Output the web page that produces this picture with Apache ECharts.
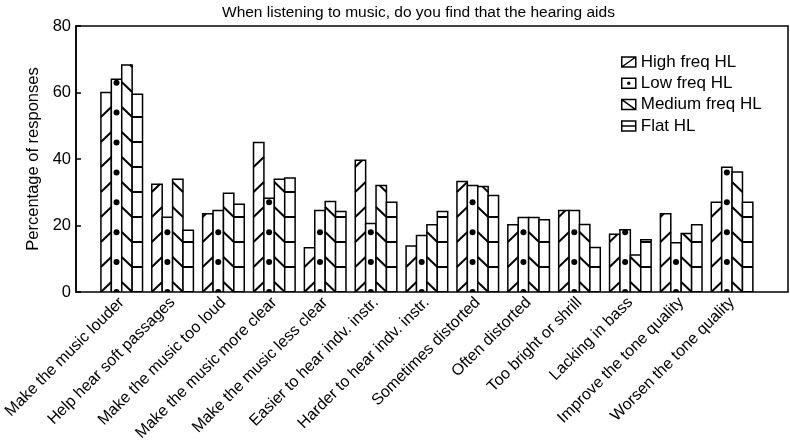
<!DOCTYPE html>
<html>
<head>
<meta charset="utf-8">
<script src="https://cdn.jsdelivr.net/npm/echarts@6/dist/echarts.min.js"></script>
<style>
html,body{margin:0;padding:0;background:#fff;}
#chart{width:790px;height:447px;}
</style>
</head>
<body>
<div id="chart"></div>
<script>
const categories = [
  'Make the music louder', 'Help hear soft passages', 'Make the music too loud',
  'Make the music more clear', 'Make the music less clear', 'Easier to hear indv. instr.',
  'Harder to hear indv. instr.', 'Sometimes distorted', 'Often distorted',
  'Too bright or shrill', 'Lacking in bass', 'Improve the tone quality', 'Worsen the tone quality'
];
const seriesNames = ['High freq HL', 'Low freq HL', 'Medium freq HL', 'Flat HL'];
const highFreq   = [60, 32.4, 23.5, 45, 13.3, 39.6, 13.8, 33.2, 20.2, 24.5, 17.4, 23.5, 27];
const lowFreq    = [64, 22.5, 24.5, 28.2, 24.5, 20.6, 17, 32, 22.4, 24.5, 18.7, 14.8, 37.5];
const mediumFreq = [68.3, 33.9, 29.7, 33.9, 27.2, 32, 20.2, 31.7, 22.4, 20.3, 11.1, 17.6, 36.1];
const flatHL     = [59.5, 18.6, 26.4, 34.3, 24.2, 27, 24.2, 29, 21.7, 13.4, 15.7, 20.2, 27];
const yTicks = { min: 0, max: 80, interval: 20 };

const FONT = 'Liberation Sans, Arial, Helvetica, sans-serif';
const BAR_W = 10.4;

function clipSeg(xa, ya, xb, yb, yTop) {
  if (ya < yTop && yb < yTop) return null;
  if (ya >= yTop && yb >= yTop) return [xa, ya, xb, yb];
  if (ya >= yTop) {
    const t = (ya - yTop) / (ya - yb);
    return [xa, ya, xa + t * (xb - xa), yTop];
  }
  const t2 = (yb - yTop) / (yb - ya);
  return [xb + t2 * (xa - xb), yTop, xb, yb];
}

function makeRender(k, pattern) {
  return function (params, api) {
    const ci = api.value(0), v = api.value(1);
    const base = api.coord([ci, 0]);
    const topP = api.coord([ci, v]);
    const x0 = base[0] + (k - 2) * BAR_W;
    const x1 = x0 + BAR_W;
    const yb = base[1], yt = topP[1];
    const children = [{
      type: 'rect',
      shape: { x: x0, y: yt, width: BAR_W, height: yb - yt },
      style: { fill: '#fff', stroke: '#000', lineWidth: 1.5 }
    }];
    const ls = { stroke: '#000', lineWidth: 2 };
    const step = 25, rise = 10;
    if (pattern === 'flat') {
      for (let y = yb; y > yt + 1.5; y -= step) {
        children.push({ type: 'line', shape: { x1: x0, y1: y, x2: x1, y2: y }, style: ls });
      }
    } else if (pattern === 'dot') {
      const cx = (x0 + x1) / 2;
      for (let y = yb; y >= yt - 1; y -= 29.9) {
        children.push({ type: 'circle', shape: { cx: cx, cy: y, r: 3 }, style: { fill: '#000' } });
      }
    } else {
      for (let y = yb; y > yt; y -= step) {
        const seg = pattern === 'fwd' ? clipSeg(x0, y, x1, y - rise, yt) : clipSeg(x0, y - rise, x1, y, yt);
        if (seg) children.push({ type: 'line', shape: { x1: seg[0], y1: seg[1], x2: seg[2], y2: seg[3] }, style: ls });
      }
    }
    return { type: 'group', children: children };
  };
}

const patterns = ['fwd', 'dot', 'back', 'flat'];
const allValues = [highFreq, lowFreq, mediumFreq, flatHL];
const icons = [
  'path://M0,0H14V10H0Z M0,10L14,0',
  'path://M0,0H14V10H0Z M6,5A1,1 0 1,1 8,5A1,1 0 1,1 6,5Z',
  'path://M0,0H14V10H0Z M0,0L14,10',
  'path://M0,0H14V10H0Z M0,5H14'
];

const chart = echarts.init(document.getElementById('chart'), null, { renderer: 'canvas' });
const option = {
  animation: false,
  backgroundColor: '#fff',
  textStyle: { fontFamily: FONT, color: '#000' },
  title: {
    text: 'When listening to music, do you find that the hearing aids',
    left: 217, top: 0,
    textStyle: { fontFamily: FONT, fontSize: 15.5, fontWeight: 'normal', color: '#000' }
  },
  legend: {
    orient: 'vertical', left: 616, top: 48.5,
    itemWidth: 14, itemHeight: 10, itemGap: 4.3,
    textStyle: { fontFamily: FONT, fontSize: 17, color: '#000' },
    data: seriesNames.map((n, i) => ({
      name: n, icon: icons[i],
      itemStyle: { color: '#fff', borderColor: '#000', borderWidth: 1.5 }
    }))
  },
  grid: [
    { left: 76, top: 26, width: 712, height: 266, show: true, borderColor: '#000', borderWidth: 1.5, backgroundColor: 'transparent' },
    { left: 96.3, top: 26, width: 661.2, height: 266 }
  ],
  xAxis: [
    { gridIndex: 0, type: 'value', min: 0, max: 1, show: false },
    {
      gridIndex: 1, type: 'category', data: categories,
      axisLine: { show: false }, axisTick: { show: false },
      axisLabel: { interval: 0, rotate: 45, fontSize: 16, color: '#000', fontFamily: FONT, margin: 8 }
    }
  ],
  yAxis: [
    {
      gridIndex: 0, type: 'value', min: yTicks.min, max: yTicks.max, interval: yTicks.interval,
      name: 'Percentage of responses', nameLocation: 'middle', nameGap: 29,
      nameTextStyle: { fontSize: 16.5, color: '#000', fontFamily: FONT },
      axisLine: { show: true, lineStyle: { color: '#000', width: 1.5 } },
      axisTick: { show: true, inside: true, length: 5, lineStyle: { color: '#000', width: 1.5 } },
      axisLabel: { fontSize: 16.5, color: '#000', fontFamily: FONT, margin: 5 },
      splitLine: { show: false }
    },
    { gridIndex: 1, type: 'value', min: yTicks.min, max: yTicks.max, show: false }
  ],
  series: allValues.map((vals, k) => ({
    type: 'custom', name: seriesNames[k],
    xAxisIndex: 1, yAxisIndex: 1, clip: true,
    itemStyle: { color: '#fff', borderColor: '#000' },
    encode: { x: 0, y: 1 },
    renderItem: makeRender(k, patterns[k]),
    data: vals.map((v, i) => [i, v])
  }))
};
chart.setOption(option);
</script>
</body>
</html>
